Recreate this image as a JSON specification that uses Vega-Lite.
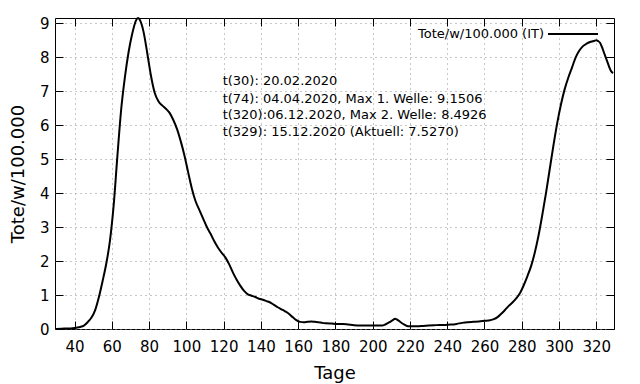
{
  "$schema": "https://vega.github.io/schema/vega-lite/v6.json",
  "autosize": {"type": "none"},
  "width": 559,
  "height": 311,
  "padding": {"left": 55, "top": 18, "right": 26, "bottom": 55},
  "background": "white",
  "config": {
    "view": {"stroke": "black", "strokeWidth": 1},
    "font": "DejaVu Sans",
    "axis": {"labelColor": "black", "titleColor": "black", "labelFont": "DejaVu Sans", "titleFont": "DejaVu Sans", "titleFontWeight": "normal"}
  },
  "datasets": {
    "curve": [
      {"t":30,"v":0.0},{"t":33,"v":0.01},{"t":36,"v":0.015},{"t":39,"v":0.025},{"t":41,"v":0.04},{"t":43,"v":0.06},{"t":45,"v":0.1},{"t":47,"v":0.2},{"t":49,"v":0.33},{"t":51,"v":0.55},{"t":53,"v":0.93},{"t":55,"v":1.4},{"t":57,"v":1.92},{"t":59,"v":2.6},{"t":61,"v":3.65},{"t":63,"v":5.1},{"t":65,"v":6.45},{"t":67,"v":7.4},{"t":69,"v":8.15},{"t":71,"v":8.7},{"t":73,"v":9.08},{"t":74,"v":9.1506},{"t":75,"v":9.1},{"t":77,"v":8.75},{"t":79,"v":8.12},{"t":81,"v":7.45},{"t":83,"v":6.95},{"t":85,"v":6.7},{"t":87,"v":6.58},{"t":89,"v":6.48},{"t":91,"v":6.36},{"t":93,"v":6.15},{"t":95,"v":5.88},{"t":97,"v":5.52},{"t":99,"v":5.1},{"t":101,"v":4.6},{"t":103,"v":4.12},{"t":105,"v":3.75},{"t":107,"v":3.5},{"t":109,"v":3.25},{"t":111,"v":3.0},{"t":113,"v":2.8},{"t":115,"v":2.58},{"t":117,"v":2.39},{"t":119,"v":2.24},{"t":121,"v":2.1},{"t":123,"v":1.9},{"t":125,"v":1.66},{"t":127,"v":1.45},{"t":129,"v":1.27},{"t":131,"v":1.12},{"t":133,"v":1.02},{"t":135,"v":0.98},{"t":137,"v":0.94},{"t":139,"v":0.89},{"t":141,"v":0.86},{"t":143,"v":0.82},{"t":145,"v":0.78},{"t":147,"v":0.71},{"t":149,"v":0.64},{"t":151,"v":0.58},{"t":153,"v":0.52},{"t":155,"v":0.45},{"t":157,"v":0.35},{"t":159,"v":0.26},{"t":161,"v":0.21},{"t":163,"v":0.2},{"t":165,"v":0.21},{"t":167,"v":0.22},{"t":169,"v":0.21},{"t":171,"v":0.2},{"t":173,"v":0.18},{"t":175,"v":0.17},{"t":178,"v":0.16},{"t":181,"v":0.15},{"t":184,"v":0.15},{"t":187,"v":0.13},{"t":190,"v":0.11},{"t":193,"v":0.1},{"t":196,"v":0.1},{"t":199,"v":0.1},{"t":202,"v":0.1},{"t":205,"v":0.1},{"t":207,"v":0.14},{"t":209,"v":0.2},{"t":211,"v":0.27},{"t":212,"v":0.3},{"t":213,"v":0.28},{"t":215,"v":0.2},{"t":217,"v":0.13},{"t":219,"v":0.08},{"t":221,"v":0.08},{"t":224,"v":0.08},{"t":227,"v":0.09},{"t":230,"v":0.1},{"t":233,"v":0.11},{"t":236,"v":0.12},{"t":239,"v":0.12},{"t":242,"v":0.13},{"t":245,"v":0.15},{"t":248,"v":0.18},{"t":251,"v":0.2},{"t":254,"v":0.21},{"t":257,"v":0.22},{"t":260,"v":0.24},{"t":263,"v":0.26},{"t":265,"v":0.29},{"t":267,"v":0.35},{"t":269,"v":0.45},{"t":271,"v":0.56},{"t":273,"v":0.68},{"t":275,"v":0.78},{"t":277,"v":0.9},{"t":279,"v":1.05},{"t":281,"v":1.28},{"t":283,"v":1.55},{"t":285,"v":1.85},{"t":287,"v":2.25},{"t":289,"v":2.75},{"t":291,"v":3.35},{"t":293,"v":4.0},{"t":295,"v":4.7},{"t":297,"v":5.4},{"t":299,"v":6.05},{"t":301,"v":6.6},{"t":303,"v":7.05},{"t":305,"v":7.4},{"t":307,"v":7.7},{"t":309,"v":8.0},{"t":311,"v":8.2},{"t":313,"v":8.33},{"t":315,"v":8.4},{"t":317,"v":8.45},{"t":319,"v":8.48},{"t":320,"v":8.4926},{"t":321,"v":8.47},{"t":322,"v":8.42},{"t":323,"v":8.3},{"t":324,"v":8.15},{"t":325,"v":8.0},{"t":326,"v":7.85},{"t":327,"v":7.7},{"t":328,"v":7.58},{"t":329,"v":7.527}
    ],
    "notes": [
      {"t":120,"v":7.29,"label":"t(30): 20.02.2020"},
      {"t":120,"v":6.78,"label":"t(74): 04.04.2020, Max 1. Welle: 9.1506"},
      {"t":120,"v":6.29,"label":"t(320):06.12.2020, Max 2. Welle: 8.4926"},
      {"t":120,"v":5.80,"label":"t(329): 15.12.2020 (Aktuell: 7.5270)"}
    ]
  },
  "resolve": {"axis": {"x": "independent", "y": "independent"}},
  "layer": [
    {
      "data": {"name": "curve"},
      "mark": {"type": "line", "strokeWidth": 2, "interpolate": "monotone"},
      "encoding": {
        "x": {"field": "t", "type": "quantitative",
          "scale": {"domain": [29.5, 329.5], "nice": false, "zero": false},
          "axis": {"title": "Tage", "titleFontSize": 18, "titlePadding": 10, "values": [40,60,80,100,120,140,160,180,200,220,240,260,280,300,320], "labelFontSize": 15, "labelPadding": 18, "tickSize": -8, "tickColor": "black", "domain": false, "grid": true, "gridColor": "#909090", "gridDash": [1, 4], "gridWidth": 1}},
        "y": {"field": "v", "type": "quantitative",
          "scale": {"domain": [0, 9.15], "nice": false, "zero": true},
          "axis": {"title": "Tote/w/100.000", "titleFontSize": 18, "titlePadding": 12, "values": [0,1,2,3,4,5,6,7,8,9], "labelFontSize": 15, "labelPadding": 14, "tickSize": -8, "tickColor": "black", "domain": false, "grid": true, "gridColor": "#909090", "gridDash": [1, 4], "gridWidth": 1}},
        "color": {"datum": "Tote/w/100.000 (IT)", "type": "nominal",
          "scale": {"range": ["black"]},
          "legend": {"title": null, "orient": "none", "legendX": 492, "legendY": -10, "padding": 0, "symbolType": "stroke", "symbolSize": 2500, "symbolStrokeWidth": 2, "labelAlign": "right", "labelOffset": -55, "labelFontSize": 13, "labelFont": "DejaVu Sans", "labelColor": "black", "labelLimit": 300}}
      }
    },
    {
      "data": {"name": "notes"},
      "mark": {"type": "text", "align": "left", "baseline": "middle", "fontSize": 13, "font": "DejaVu Sans", "color": "black", "dx": -1},
      "encoding": {
        "x": {"field": "t", "type": "quantitative", "axis": null},
        "y": {"field": "v", "type": "quantitative", "axis": null},
        "text": {"field": "label"}
      }
    },
    {
      "data": {"name": "curve"},
      "mark": {"type": "line", "strokeOpacity": 0},
      "encoding": {
        "x": {"field": "t", "type": "quantitative",
          "axis": {"orient": "top", "title": null, "labels": false, "values": [40,60,80,100,120,140,160,180,200,220,240,260,280,300,320], "tickSize": -8, "tickColor": "black", "domain": false, "grid": false}},
        "y": {"field": "v", "type": "quantitative",
          "axis": {"orient": "right", "title": null, "labels": false, "values": [0,1,2,3,4,5,6,7,8,9], "tickSize": -8, "tickColor": "black", "domain": false, "grid": false}}
      }
    }
  ]
}
